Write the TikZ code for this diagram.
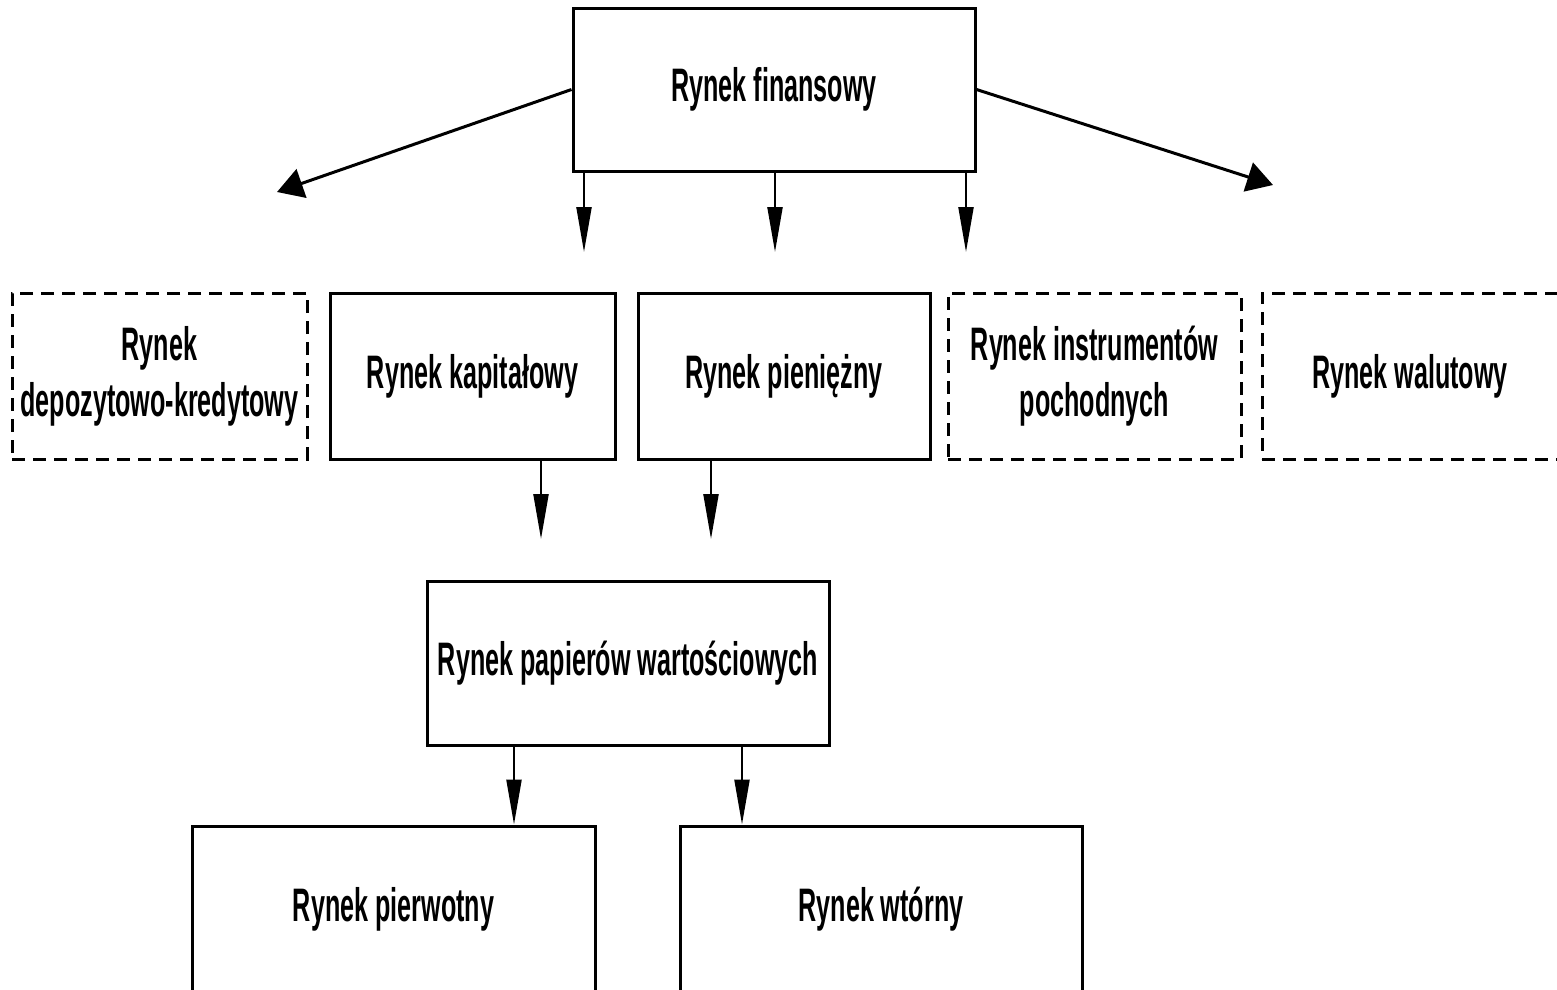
\documentclass[tikz,border=0pt]{standalone}
\usepackage{fontspec}
\setmainfont{Liberation Sans}[FakeStretch=0.535]
\usetikzlibrary{arrows.meta}
\begin{document}
\begin{tikzpicture}[x=1pt,y=-1pt,
  box/.style={draw=black,line width=3pt,fill=white,inner sep=0pt,align=center,
    font=\fontsize{47}{56}\selectfont\bfseries},
  dbox/.style={box,dashed,dash pattern=on 13pt off 8pt},
  varrow/.style={line width=2.2pt,-{Triangle[length=45pt,width=15pt]}},
  darrow/.style={line width=3pt,-{Triangle[length=26pt,width=30pt]}}]
\useasboundingbox[fill=white] (0,0) rectangle (1557,989);
\node[box,minimum width=402pt,minimum height=163pt] (fin) at (774,89.5) {\raisebox{-2pt}{Rynek finansowy}};
\node[dbox,minimum width=295pt,minimum height=166pt] (dep) at (159.5,376) {Rynek\\depozytowo-kredytowy};
\node[box,minimum width=285pt,minimum height=166pt] (kap) at (472.5,376) {Rynek kapitałowy};
\node[box,minimum width=292pt,minimum height=166pt] (pien) at (784,376) {Rynek pieniężny};
\node[dbox,minimum width=293pt,minimum height=166pt] (instr) at (1094.5,376) {Rynek instrumentów\\pochodnych};
\node[dbox,minimum width=296pt,minimum height=166pt] (wal) at (1410,376) {Rynek walutowy};
\node[box,minimum width=402pt,minimum height=164pt] (pap) at (628,663) {Rynek papierów wartościowych};
\node[box,minimum width=403pt,minimum height=166pt] (pierw) at (393.5,909) {Rynek pierwotny};
\node[box,minimum width=402pt,minimum height=166pt] (wt) at (881,909) {Rynek wtórny};
% free arrow ends
\coordinate (tl) at (277,192);
\coordinate (tr) at (1273,185);
\coordinate (t1) at (584,252);
\coordinate (t2) at (775,252);
\coordinate (t3) at (966,252);
\coordinate (t4) at (541,539);
\coordinate (t5) at (711,539);
\coordinate (b1) at (514,745);
\coordinate (b2) at (742,745);
% connectors
\draw[darrow] (fin.west) -- (tl);
\draw[darrow] (fin.east) -- (tr);
\draw[varrow] (fin.south -| t1) -- (t1);
\draw[varrow] (fin.south -| t2) -- (t2);
\draw[varrow] (fin.south -| t3) -- (t3);
\draw[varrow] (kap.south -| t4) -- (t4);
\draw[varrow] (pien.south -| t5) -- (t5);
\draw[varrow] (pap.south -| b1) -- (pierw.north -| b1);
\draw[varrow] (pap.south -| b2) -- (wt.north -| b2);
\end{tikzpicture}
\end{document}
